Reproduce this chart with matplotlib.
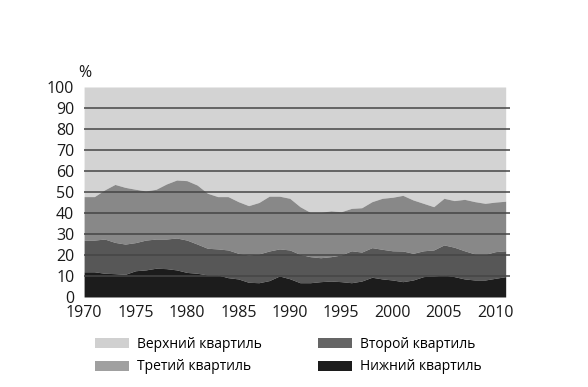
import matplotlib.pyplot as plt
from matplotlib.patches import Patch
import numpy as np

plt.rcParams['font.family'] = ['Open Sans', 'DejaVu Sans']

years = list(range(1970, 2012))

# top of each band (cumulative share, %)
bottom_top = [12.0, 12.0, 11.3, 11.1, 10.8, 12.5, 12.9, 13.7, 13.5, 12.9,
              11.7, 11.3, 10.5, 10.5, 9.2, 8.6, 7.0, 6.8, 7.8, 10.0,
              8.7, 6.8, 6.8, 7.3, 7.6, 7.3, 6.8, 7.6, 9.4, 8.6,
              8.1, 7.3, 8.1, 9.7, 10.0, 10.5, 9.7, 8.6, 8.1, 8.1,
              8.9, 9.7]
second_top = [27.1, 27.1, 27.6, 26.0, 25.2, 25.9, 27.1, 27.6, 27.6, 28.1,
              27.1, 25.2, 23.2, 22.9, 22.4, 20.8, 20.0, 20.5, 21.9, 22.9,
              22.4, 20.3, 19.2, 18.7, 19.2, 20.0, 22.0, 21.4, 23.5, 22.7,
              22.0, 21.9, 20.8, 22.0, 22.4, 24.8, 23.7, 22.0, 20.5, 20.3,
              21.6, 22.0]
third_top = [47.8, 47.8, 51.0, 53.6, 52.2, 51.3, 50.5, 51.3, 53.8, 55.7,
             55.4, 53.3, 49.4, 47.8, 47.8, 45.4, 43.5, 45.0, 48.0, 48.0,
             47.0, 43.0, 40.3, 40.3, 41.0, 40.6, 42.2, 42.5, 45.4, 47.0,
             47.5, 48.4, 46.2, 44.6, 43.0, 47.0, 45.9, 46.5, 45.4, 44.6,
             45.2, 45.6]
upper_top = [100] * len(years)

labels = ['Верхний квартиль', 'Третий квартиль', 'Второй квартиль', 'Нижний квартиль']
colors = ['#d3d3d3', '#888888', '#575757', '#1c1c1c']
legend_colors = ['#d0d0d0', '#a0a0a0', '#656565', '#1c1c1c']

fig = plt.figure(figsize=(5.88, 3.87), dpi=100)
ax = fig.add_axes([0.143, 0.2326, 0.724, 0.5426])

zeros = np.zeros(len(years))
ax.fill_between(years, third_top, upper_top, color=colors[0], lw=0)
ax.fill_between(years, second_top, third_top, color=colors[1], lw=0)
ax.fill_between(years, bottom_top, second_top, color=colors[2], lw=0)
ax.fill_between(years, zeros, bottom_top, color=colors[3], lw=0)

for v in range(10, 100, 10):
    ax.axhline(v, color='#454545', lw=1.1, zorder=3)

ax.set_xlim(1970, 2011.4)
ax.set_ylim(0, 100)
ax.set_xticks(range(1970, 2011, 5))
ax.set_yticks(range(0, 101, 10))
ax.tick_params(length=0, labelsize=11.5, colors='#1a1a1a')
ax.tick_params(axis='x', pad=6)
ax.tick_params(axis='y', pad=7)
for s in ax.spines.values():
    s.set_visible(False)

fig.text(0.133, 0.80, '%', fontsize=11.5, color='#1a1a1a')

handles = [Patch(facecolor=c, edgecolor='none') for c in legend_colors]
fig.legend(handles, labels, ncol=2, loc='lower left', bbox_to_anchor=(0.14, 0.0),
           frameon=False, fontsize=10, handlelength=2.45, handleheight=0.75,
           columnspacing=4.0, labelspacing=0.55, handletextpad=0.6)

fig.savefig('out.png', dpi=100)
